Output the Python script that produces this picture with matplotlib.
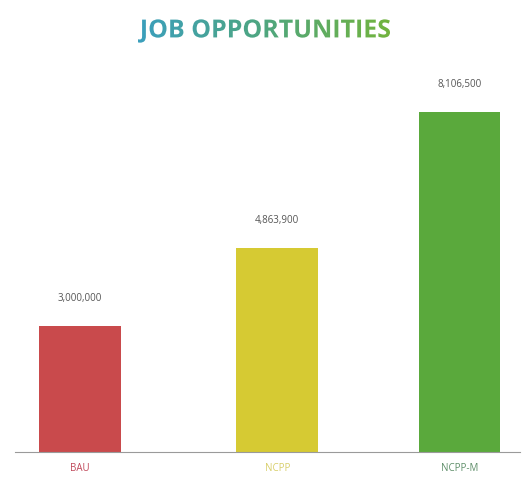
#!/usr/bin/env python3
"""Job opportunities bar chart."""

import matplotlib

matplotlib.use("Agg")
import matplotlib.pyplot as plt
import numpy as np
from matplotlib.colors import LinearSegmentedColormap
from matplotlib.font_manager import FontProperties
from matplotlib.patches import PathPatch
from matplotlib.textpath import TextPath
from matplotlib.transforms import Affine2D

categories = ["BAU", "NCPP", "NCPP-M"]
jobs = [3000000, 4863900, 8106500]
value_labels = ["3,000,000", "4,863,900", "8,106,500"]
bar_colors = ["#c94a4c", "#d6ca33", "#5aa93c"]
label_colors = ["#c0485a", "#d8cf6a", "#5f8f6a"]

TITLE = "JOB OPPORTUNITIES"
W, H = 528, 478


def draw_title(fig) -> None:
    # overlay axes in pixel units, gradient image clipped to the title glyphs
    tax = fig.add_axes([0, 0, 1, 1])
    tax.set_xlim(0, W)
    tax.set_ylim(0, H)
    tax.axis("off")
    prop = FontProperties(family="Open Sans", weight="bold")
    path = TextPath((0, 0), TITLE, size=24, prop=prop)
    ext = path.get_extents()
    target_w = 252
    s = target_w / ext.width
    cx, cy = W / 2, H - 31
    path = Affine2D().translate(-ext.x0 - ext.width / 2, -ext.y0 - ext.height / 2) \
        .scale(s).translate(cx, cy).transform_path(path)
    patch = PathPatch(path, facecolor="none", edgecolor="none", transform=tax.transData)
    tax.add_patch(patch)
    bb = path.get_extents()
    cmap = LinearSegmentedColormap.from_list("title", ["#3b9fbd", "#4fa67f", "#72b43e"])
    grad = np.linspace(0, 1, 256).reshape(1, -1)
    img = tax.imshow(grad, cmap=cmap, aspect="auto",
                     extent=(bb.x0, bb.x1, bb.y0, bb.y1))
    img.set_clip_path(patch)


def main() -> None:
    fig = plt.figure(figsize=(W / 100, H / 100), dpi=100)
    ax = fig.add_axes([15 / W, 26 / H, 505 / W, 377 / H])

    x = [0, 1.04, 2]
    ax.bar(x, jobs, width=0.43, color=bar_colors)
    for xi, val, lab in zip(x, jobs, value_labels):
        ax.annotate(lab, (xi, val), xytext=(0, 16), textcoords="offset points",
                    ha="center", va="bottom", fontsize=7, color="#555555",
                    family="Open Sans")

    ax.set_xlim(-0.343, 2.32)
    ax.set_ylim(0, 9000000)
    ax.set_xticks(x)
    ax.set_xticklabels(categories, fontsize=7, family="Open Sans")
    for tick, col in zip(ax.get_xticklabels(), label_colors):
        tick.set_color(col)
    ax.tick_params(axis="x", length=0, pad=8)
    ax.set_yticks([])
    for side in ("top", "right", "left"):
        ax.spines[side].set_visible(False)
    ax.spines["bottom"].set_color("#9a9a9a")
    ax.spines["bottom"].set_linewidth(0.8)

    draw_title(fig)

    fig.savefig("out.png", dpi=100)
    plt.close(fig)


if __name__ == "__main__":
    main()
